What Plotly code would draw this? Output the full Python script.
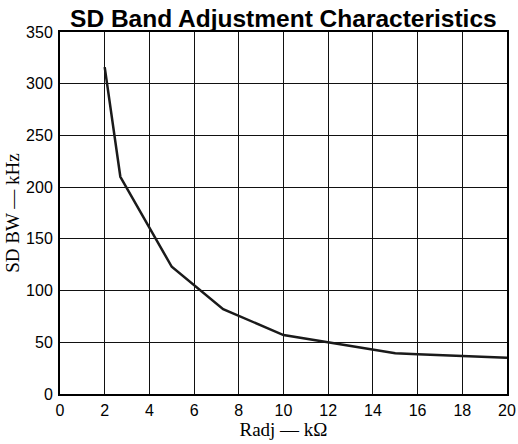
import plotly.graph_objects as go

radj_kohm = [2.0, 2.7, 5.0, 7.3, 10.0, 12.0, 14.0, 15.0, 16.0, 18.0, 20.0]
sd_bw_khz = [316, 210, 123, 82, 57, 50, 43, 39.5, 38.5, 36.5, 35]

x_ticks = [0, 2, 4, 6, 8, 10, 12, 14, 16, 18, 20]
y_ticks = [0, 50, 100, 150, 200, 250, 300, 350]

fig = go.Figure()
fig.add_trace(go.Scatter(
    x=radj_kohm, y=sd_bw_khz, mode="lines",
    line=dict(color="#1a1a1a", width=2.5),
    showlegend=False, hoverinfo="skip",
))

fig.update_layout(
    width=518, height=444,
    paper_bgcolor="white", plot_bgcolor="white",
    margin=dict(l=60, r=11, t=32, b=50, autoexpand=False),
    title=dict(
        text="<b>SD Band Adjustment Characteristics</b>",
        font=dict(family="Liberation Sans, Arial", size=24.5, color="black"),
        x=0.547, xanchor="center", xref="container",
        y=0.959, yanchor="middle", yref="container",
    ),
)

fig.update_xaxes(
    range=[0, 20], tickvals=x_ticks, ticktext=[str(v) for v in x_ticks],
    showgrid=True, gridcolor="#111", gridwidth=1,
    showline=True, linecolor="black", linewidth=2, mirror=True,
    ticks="", ticklabelstandoff=1, automargin=False,
    tickfont=dict(family="Liberation Sans, Arial", size=16, color="black"),
    title=dict(text="Radj — kΩ", standoff=2,
               font=dict(family="Liberation Serif, Times New Roman", size=19, color="black")),
    zeroline=False,
)
fig.update_yaxes(
    range=[0, 350], tickvals=y_ticks, ticktext=[str(v) for v in y_ticks],
    showgrid=True, gridcolor="#111", gridwidth=1,
    showline=True, linecolor="black", linewidth=2, mirror=True,
    ticks="", ticklabelstandoff=2, automargin=False,
    tickfont=dict(family="Liberation Sans, Arial", size=16, color="black"),
    title=dict(text="SD BW — kHz", standoff=1,
               font=dict(family="Liberation Serif, Times New Roman", size=19, color="black")),
    zeroline=False,
)

fig.write_html(
    "out.html",
    config={"displayModeBar": False},
    post_script="document.body.style.margin='0';document.body.style.overflow='hidden';",
)
